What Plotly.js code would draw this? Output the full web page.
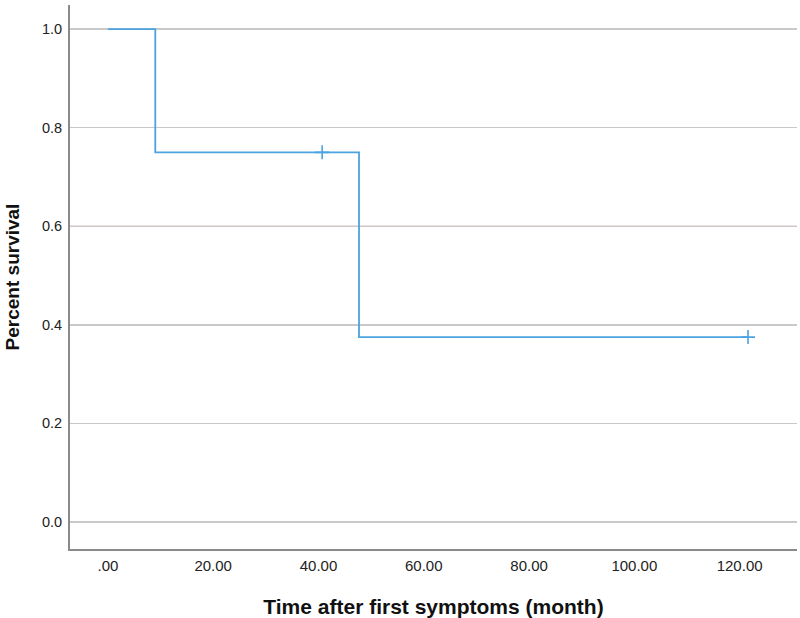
<!DOCTYPE html>
<html><head><meta charset="utf-8">
<script src="https://cdn.plot.ly/plotly-3.0.1.min.js"></script>
<style>body{margin:0;background:#fff}#c{width:800px;height:618px}</style>
</head><body><div id="c"></div>
<script>
const stepTime = [0, 9, 47.7, 121.6];
const stepSurvival = [1.0, 0.75, 0.375, 0.375];
const censorTime = [40.7, 121.6];
const censorSurvival = [0.75, 0.375];
const xTickVals = [0, 20, 40, 60, 80, 100, 120];
const xTickText = ['.00', '20.00', '40.00', '60.00', '80.00', '100.00', '120.00'];
const yTickVals = [0, 0.2, 0.4, 0.6, 0.8, 1.0];

const lineColor = 'rgb(75,163,224)';
const traces = [
  {x: stepTime, y: stepSurvival, type: 'scatter', mode: 'lines',
   line: {shape: 'hv', color: lineColor, width: 1.8}, hoverinfo: 'skip'},
  {x: censorTime, y: censorSurvival, type: 'scatter', mode: 'markers',
   marker: {symbol: 'cross-thin', size: 10, line: {color: lineColor, width: 1.6}}, hoverinfo: 'skip'}
];
const layout = {
  width: 800, height: 618,
  margin: {l: 70, r: 3, t: 5, b: 69},
  paper_bgcolor: '#fff', plot_bgcolor: '#fff',
  showlegend: false,
  font: {family: 'Liberation Sans, Arial, sans-serif', color: '#222'},
  xaxis: {
    range: [-7.2, 130.9], tickvals: xTickVals, ticktext: xTickText,
    showgrid: false, zeroline: false, showline: true, linecolor: '#8a8a8a', linewidth: 2,
    ticks: '', tickfont: {size: 15, color: '#222'}, ticklabelstandoff: 2,
    title: {text: 'Time after first symptoms (month)', font: {size: 21, color: '#111', weight: 'bold'}, standoff: 26}
  },
  yaxis: {
    range: [-0.055, 1.049], tickvals: yTickVals, tickformat: '.1f',
    showgrid: true, gridcolor: '#c9c9c9', gridwidth: 1.5, zeroline: false,
    showline: true, linecolor: '#8a8a8a', linewidth: 2,
    ticks: '', tickfont: {size: 14.5, color: '#222'}, ticklabelstandoff: 3,
    title: {text: 'Percent survival', font: {size: 19, color: '#111', weight: 'bold'}, standoff: 17}
  },
  shapes: [
    {type: 'line', xref: 'paper', x0: 0, x1: 1, yref: 'y', y0: 0.6, y1: 0.6,
     line: {color: '#d9c3bd', width: 1.5}, layer: 'below'}
  ]
};
Plotly.newPlot('c', traces, layout, {displayModeBar: false, staticPlot: true});
</script></body></html>
